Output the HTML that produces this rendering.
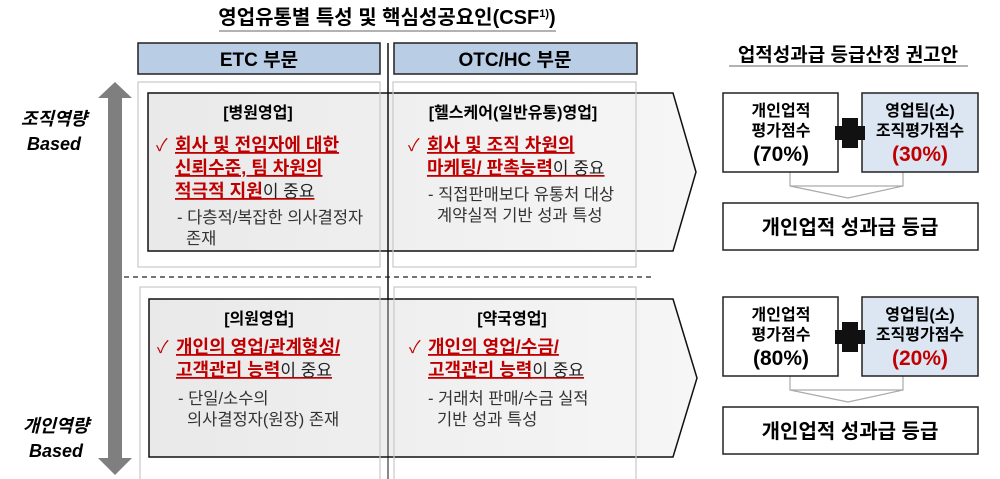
<!DOCTYPE html>
<html><head><meta charset="utf-8"><style>
body{margin:0;background:#fff}
svg{display:block}
text{font-family:"Liberation Sans","Noto Sans CJK KR",sans-serif}
.b{font-weight:bold}
.r{fill:#c00000;font-weight:bold;font-size:18px;text-decoration:underline}
.g{fill:#333;font-size:16.5px}
.k{fill:#c00000;font-size:17px}
.t{fill:#222;font-weight:normal;text-decoration:none;font-size:17px}
</style></head><body>
<svg width="1000" height="479" viewBox="0 0 1000 479" xmlns="http://www.w3.org/2000/svg">
<defs>
<linearGradient id="pg" x1="0" x2="1" y1="0" y2="0"><stop offset="0" stop-color="#e9e9e9"/><stop offset="1" stop-color="#f6f6f6"/></linearGradient>
</defs>
<text x="387" y="24" text-anchor="middle" class="b" font-size="20">영업유통별 특성 및 핵심성공요인(CSF<tspan font-size="11" dy="-7">1)</tspan><tspan dy="7">)</tspan></text>
<line x1="219" y1="31" x2="556" y2="31" stroke="#666" stroke-width="1"/>
<rect x="138" y="43" width="242" height="31" fill="#b9cde5" stroke="#222" stroke-width="1.5"/>
<text x="259" y="66" text-anchor="middle" class="b" font-size="19">ETC 부문</text>
<rect x="394" y="43" width="243" height="31" fill="#b9cde5" stroke="#222" stroke-width="1.5"/>
<text x="515" y="66" text-anchor="middle" class="b" font-size="19">OTC/HC 부문</text>
<polygon points="148,93 673,93 696,172 673,251 148,251" fill="url(#pg)" stroke="#111" stroke-width="1.5"/>
<polygon points="149,299 673,299 697,378 673,457 149,457" fill="url(#pg)" stroke="#111" stroke-width="1.5"/>
<rect x="138" y="82" width="242" height="185" fill="none" stroke="#c8c8c8" stroke-width="1.2"/>
<rect x="393" y="82" width="243" height="185" fill="none" stroke="#c8c8c8" stroke-width="1.2"/>
<rect x="140" y="287" width="240" height="200" fill="none" stroke="#c8c8c8" stroke-width="1.2"/>
<rect x="394" y="287" width="242" height="200" fill="none" stroke="#c8c8c8" stroke-width="1.2"/>
<line x1="388" y1="43" x2="388" y2="300" stroke="#111" stroke-width="1.5"/>
<line x1="388" y1="270" x2="388" y2="479" stroke="#111" stroke-width="1"/>
<line x1="124" y1="277" x2="653" y2="277" stroke="#222" stroke-width="1.2" stroke-dasharray="5,4"/>
<polygon points="115,82 132,98 122,98 122,458 132,458 115,475 98,458 108,458 108,98 98,98" fill="#7f7f7f"/>
<text x="54" y="125" text-anchor="middle" class="b" font-size="18" font-style="italic">조직역량</text>
<text x="54" y="150" text-anchor="middle" class="b" font-size="18" font-style="italic">Based</text>
<text x="56" y="432" text-anchor="middle" class="b" font-size="18" font-style="italic">개인역량</text>
<text x="56" y="457" text-anchor="middle" class="b" font-size="18" font-style="italic">Based</text>
<text x="258" y="118" text-anchor="middle" class="b" font-size="16">[병원영업]</text>
<text x="156" y="151" class="k">✓</text>
<text x="175" y="151" class="r">회사 및 전임자에 대한</text>
<text x="175" y="174" class="r">신뢰수준, 팀 차원의</text>
<text x="175" y="197" class="r">적극적 지원<tspan class="t">이 중요</tspan></text>
<text x="177" y="223" class="g">- 다층적/복잡한 의사결정자</text>
<text x="186" y="244" class="g">존재</text>
<text x="513" y="118" text-anchor="middle" class="b" font-size="16">[헬스케어(일반유통)영업]</text>
<text x="408" y="151" class="k">✓</text>
<text x="427" y="151" class="r">회사 및 조직 차원의</text>
<text x="427" y="174" class="r">마케팅/ 판촉능력<tspan class="t">이 중요</tspan></text>
<text x="428" y="200" class="g">- 직접판매보다 유통처 대상</text>
<text x="437" y="221" class="g">계약실적 기반 성과 특성</text>
<text x="259" y="324" text-anchor="middle" class="b" font-size="16">[의원영업]</text>
<text x="157" y="353" class="k">✓</text>
<text x="176" y="353" class="r">개인의 영업/관계형성/</text>
<text x="176" y="376" class="r">고객관리 능력<tspan class="t">이 중요</tspan></text>
<text x="178" y="404" class="g">- 단일/소수의</text>
<text x="187" y="425" class="g">의사결정자(원장) 존재</text>
<text x="512" y="324" text-anchor="middle" class="b" font-size="16">[약국영업]</text>
<text x="409" y="353" class="k">✓</text>
<text x="428" y="353" class="r">개인의 영업/수금/</text>
<text x="428" y="376" class="r">고객관리 능력<tspan class="t">이 중요</tspan></text>
<text x="428" y="404" class="g">- 거래처 판매/수금 실적</text>
<text x="437" y="425" class="g">기반 성과 특성</text>
<text x="848" y="61" text-anchor="middle" class="b" font-size="19">업적성과급 등급산정 권고안</text>
<line x1="729" y1="66" x2="968" y2="66" stroke="#666"/>
<g id="rp">
<path d="M790,172 V186 H903 V172 M790,186 L848,198 L903,186" fill="none" stroke="#aaa" stroke-width="1.2"/>
<rect x="723" y="93" width="115" height="79" fill="#fff" stroke="#222" stroke-width="1.5"/>
<rect x="862" y="93" width="116" height="79" fill="#dce6f2" stroke="#222" stroke-width="1.5"/>
<text x="781" y="116" text-anchor="middle" class="b" font-size="16">개인업적</text>
<text x="781" y="136" text-anchor="middle" class="b" font-size="16">평가점수</text>
<text x="920" y="116" text-anchor="middle" class="b" font-size="16">영업팀(소)</text>
<text x="920" y="136" text-anchor="middle" class="b" font-size="16">조직평가점수</text>
<rect x="842" y="118" width="16" height="30" fill="#111"/>
<rect x="835" y="126" width="30" height="14" fill="#111"/>
<rect x="723" y="203" width="255" height="47" fill="#fff" stroke="#222" stroke-width="1.5"/>
<text x="850" y="234" text-anchor="middle" class="b" font-size="20">개인업적 성과급 등급</text>
</g>
<text x="781" y="161" text-anchor="middle" class="b" font-size="21">(70%)</text>
<text x="920" y="161" text-anchor="middle" class="b" font-size="21" fill="#c00000">(30%)</text>
<use href="#rp" transform="translate(0,204)"/>
<text x="781" y="365" text-anchor="middle" class="b" font-size="21">(80%)</text>
<text x="920" y="365" text-anchor="middle" class="b" font-size="21" fill="#c00000">(20%)</text>
</svg>
</body></html>
